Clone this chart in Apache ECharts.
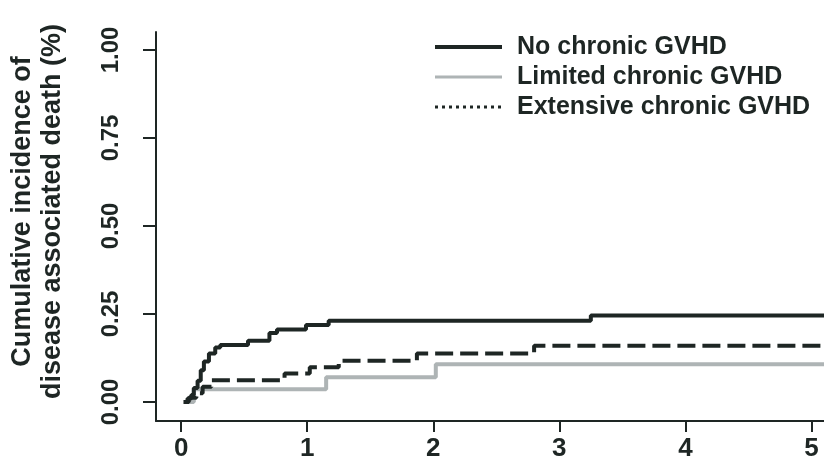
<!DOCTYPE html>
<html>
<head>
<meta charset="utf-8">
<script src="https://cdn.jsdelivr.net/npm/echarts@6/dist/echarts.min.js"></script>
<style>
html,body{margin:0;padding:0;background:#fff;}
#chart{width:824px;height:470px;}
</style>
</head>
<body>
<div id="chart"></div>
<script>
// Series names
const seriesNames = ['No chronic GVHD', 'Limited chronic GVHD', 'Extensive chronic GVHD'];

// No chronic GVHD (time in years, cumulative incidence)
const noTimes  = [0.02, 0.05, 0.08, 0.10, 0.13, 0.155, 0.18, 0.22, 0.27, 0.31, 0.53, 0.70, 0.76, 0.99, 1.17, 3.25, 5.1];
const noValues = [0.00, 0.01, 0.02, 0.04, 0.06, 0.09, 0.115, 0.138, 0.155, 0.162, 0.174, 0.196, 0.206, 0.219, 0.231, 0.246, 0.246];

// Limited chronic GVHD
const limTimes  = [0.02, 0.10, 1.15, 2.02, 5.1];
const limValues = [0.00, 0.036, 0.070, 0.107, 0.107];

// Extensive chronic GVHD
const extTimes  = [0.02, 0.06, 0.12, 0.17, 0.24, 0.82, 1.02, 1.25, 1.87, 2.80, 5.1];
const extValues = [0.00, 0.012, 0.025, 0.043, 0.062, 0.081, 0.099, 0.117, 0.138, 0.160, 0.160];

// Tick labels
const xTicks = [0, 1, 2, 3, 4, 5];
const yTicks = [0, 0.25, 0.5, 0.75, 1];

const ink = '#1e2624';
const grey = '#aeb4b5';
const font = 'Liberation Sans, Arial, sans-serif';

function pairs(t, v) { return t.map((x, i) => [x, v[i]]); }

const chart = echarts.init(document.getElementById('chart'));
chart.setOption({
  backgroundColor: '#fff',
  animation: false,
  grid: { left: 155, top: 32, right: 0, bottom: 49, containLabel: false },
  legend: {
    orient: 'vertical',
    left: 433,
    top: 32,
    padding: 0,
    itemWidth: 67,
    itemHeight: 14,
    itemGap: 0,
    itemStyle: { opacity: 0 },
    textStyle: { fontFamily: font, fontSize: 25, fontWeight: 'bold', color: ink, lineHeight: 30, padding: [0, 0, 0, 10] },
    data: [
      { name: seriesNames[0], itemStyle: { opacity: 0 }, lineStyle: { width: 4, color: ink, type: 'solid' } },
      { name: seriesNames[1], itemStyle: { opacity: 0 }, lineStyle: { width: 3, color: grey, type: 'solid' } },
      { name: seriesNames[2], itemStyle: { opacity: 0 }, lineStyle: { width: 3, color: ink, type: [3, 4] } }
    ]
  },
  xAxis: {
    type: 'value',
    min: -0.2,
    max: 5.1,
    splitLine: { show: false },
    axisLine: { show: true, onZero: false, lineStyle: { color: ink, width: 2 } },
    axisTick: { show: true, length: 11, customValues: xTicks, lineStyle: { color: ink, width: 2 } },
    axisLabel: { customValues: xTicks, margin: 15, fontFamily: font, fontSize: 26, fontWeight: 'bold', color: ink,
      formatter: v => String(v) }
  },
  yAxis: {
    type: 'value',
    min: -0.054,
    max: 1.051,
    splitLine: { show: false },
    axisLine: { show: true, onZero: false, lineStyle: { color: ink, width: 2 } },
    axisTick: { show: true, length: 13, customValues: yTicks, lineStyle: { color: ink, width: 2 } },
    axisLabel: { customValues: yTicks, rotate: 90, margin: 33, fontFamily: font, fontSize: 24, fontWeight: 'bold', color: ink,
      formatter: v => v.toFixed(2) },
    name: 'Cumulative incidence of\ndisease associated death (%)',
    nameLocation: 'middle',
    nameRotate: 90,
    nameGap: 88,
    nameTextStyle: { fontFamily: font, fontSize: 27, fontWeight: 'bold', color: ink, lineHeight: 30, padding: [0, 0, 0, 30] }
  },
  series: [
    {
      name: seriesNames[1], type: 'line', step: 'end', symbol: 'none', z: 2,
      lineStyle: { color: grey, width: 4 }, itemStyle: { color: grey },
      data: pairs(limTimes, limValues)
    },
    {
      name: seriesNames[2], type: 'line', step: 'end', symbol: 'none', z: 3,
      lineStyle: { color: ink, width: 4, type: [18, 7] }, itemStyle: { color: ink },
      data: pairs(extTimes, extValues)
    },
    {
      name: seriesNames[0], type: 'line', step: 'end', symbol: 'none', z: 4,
      lineStyle: { color: ink, width: 4 }, itemStyle: { color: ink },
      data: pairs(noTimes, noValues)
    }
  ]
});
</script>
</body>
</html>
